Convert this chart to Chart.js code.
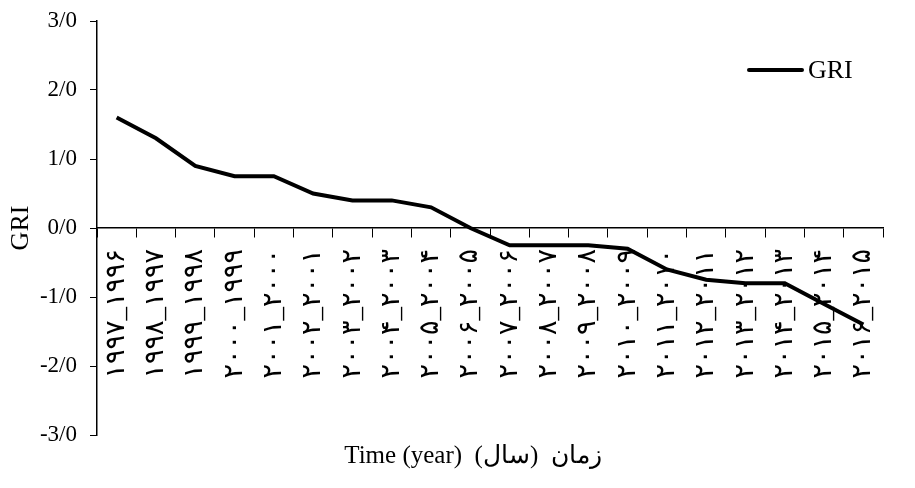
<!DOCTYPE html>
<html>
<head>
<meta charset="utf-8">
<script src="https://cdn.jsdelivr.net/npm/chart.js@4.4.1/dist/chart.umd.min.js"></script>
<style>
  html, body { margin: 0; padding: 0; background: #fff; }
  #wrap { width: 915px; height: 488px; position: relative; }
</style>
</head>
<body>
<div id="wrap"><canvas id="chart"></canvas></div>
<script>
// periods, written in the order they show on the rotated labels
const periods = [
  '۱۹۹۷_۱۹۹۶', '۱۹۹۸_۱۹۹۷', '۱۹۹۹_۱۹۹۸', '۲۰۰۰_۱۹۹۹', '۲۰۰۱_۲۰۰۰',
  '۲۰۰۲_۲۰۰۱', '۲۰۰۳_۲۰۰۲', '۲۰۰۴_۲۰۰۳', '۲۰۰۵_۲۰۰۴', '۲۰۰۶_۲۰۰۵',
  '۲۰۰۷_۲۰۰۶', '۲۰۰۸_۲۰۰۷', '۲۰۰۹_۲۰۰۸', '۲۰۱۰_۲۰۰۹', '۲۰۱۱_۲۰۱۰',
  '۲۰۱۲_۲۰۱۱', '۲۰۱۳_۲۰۱۲', '۲۰۱۴_۲۰۱۳', '۲۰۱۵_۲۰۱۴', '۲۰۱۶_۲۰۱۵'
];
const griValues = [1.6, 1.3, 0.9, 0.75, 0.75, 0.5, 0.4, 0.4, 0.3, 0.0,
  -0.25, -0.25, -0.25, -0.3, -0.6, -0.75, -0.8, -0.8, -1.1, -1.4];
const yTickValues = [-3, -2, -1, 0, 1, 2, 3];
const yTickLabels = ['-3/0', '-2/0', '-1/0', '0/0', '1/0', '2/0', '3/0'];
const xTitle = 'Time (year)  زمان  (سال)';

const serif = "'Liberation Serif', 'Times New Roman', serif";

// legend and x title are drawn by hand, placed like the original
const extras = {
  id: 'extras',
  afterDraw(chart) {
    const ctx = chart.ctx;
    const ds = chart.data.datasets[0];
    const x = 749, y = 70;
    ctx.save();
    ctx.strokeStyle = ds.borderColor;
    ctx.lineWidth = ds.borderWidth;
    ctx.lineCap = 'round';
    ctx.beginPath();
    ctx.moveTo(x, y);
    ctx.lineTo(x + 53, y);
    ctx.stroke();
    ctx.fillStyle = '#000';
    ctx.font = '26px ' + serif;
    ctx.textBaseline = 'middle';
    ctx.fillText(ds.label, x + 59, y + 1);

    ctx.font = '25px ' + serif;
    ctx.textAlign = 'center';
    ctx.fillText(xTitle, 473, chart.chartArea.bottom + 21);
    ctx.restore();
  }
};

new Chart(document.getElementById('chart'), {
  type: 'line',
  data: {
    labels: periods,
    datasets: [{
      label: 'GRI',
      data: griValues,
      borderColor: '#000',
      borderWidth: 4,
      pointRadius: 0,
      tension: 0,
      fill: false
    }]
  },
  options: {
    responsive: true,
    maintainAspectRatio: false,
    animation: false,
    layout: { padding: { left: 0, right: 32, top: 21, bottom: 53 } },
    plugins: {
      legend: { display: false },
      tooltip: { enabled: false }
    },
    scales: {
      x: {
        type: 'category',
        position: { y: 0 },
        offset: true,
        grid: {
          offset: true,
          drawOnChartArea: false,
          drawTicks: true,
          tickLength: 9,
          color: '#000',
          lineWidth: 1
        },
        border: { display: true, color: '#000', width: 1.5 },
        ticks: {
          color: '#000',
          autoSkip: false,
          minRotation: 90,
          maxRotation: 90,
          padding: 12,
          font: { family: "'Liberation Serif', 'DejaVu Sans', serif", size: 27 }
        }
      },
      y: {
        min: -3,
        max: 3,
        afterFit(scale) { scale.width = 97; },
        afterBuildTicks(scale) {
          scale.ticks = yTickValues.map(v => ({ value: v }));
        },
        grid: {
          drawOnChartArea: false,
          drawTicks: true,
          tickLength: 7,
          color: '#000',
          lineWidth: 1
        },
        border: { display: true, color: '#000', width: 1.5 },
        ticks: {
          color: '#000',
          padding: 13,
          font: { family: serif, size: 23, lineHeight: 0.6 },
          callback: (v) => yTickLabels[yTickValues.indexOf(v)]
        },
        title: {
          display: true,
          text: 'GRI',
          color: '#000',
          font: { family: serif, size: 26 },
          padding: { top: 6, bottom: 0 }
        }
      }
    }
  },
  plugins: [extras]
});
</script>
</body>
</html>
